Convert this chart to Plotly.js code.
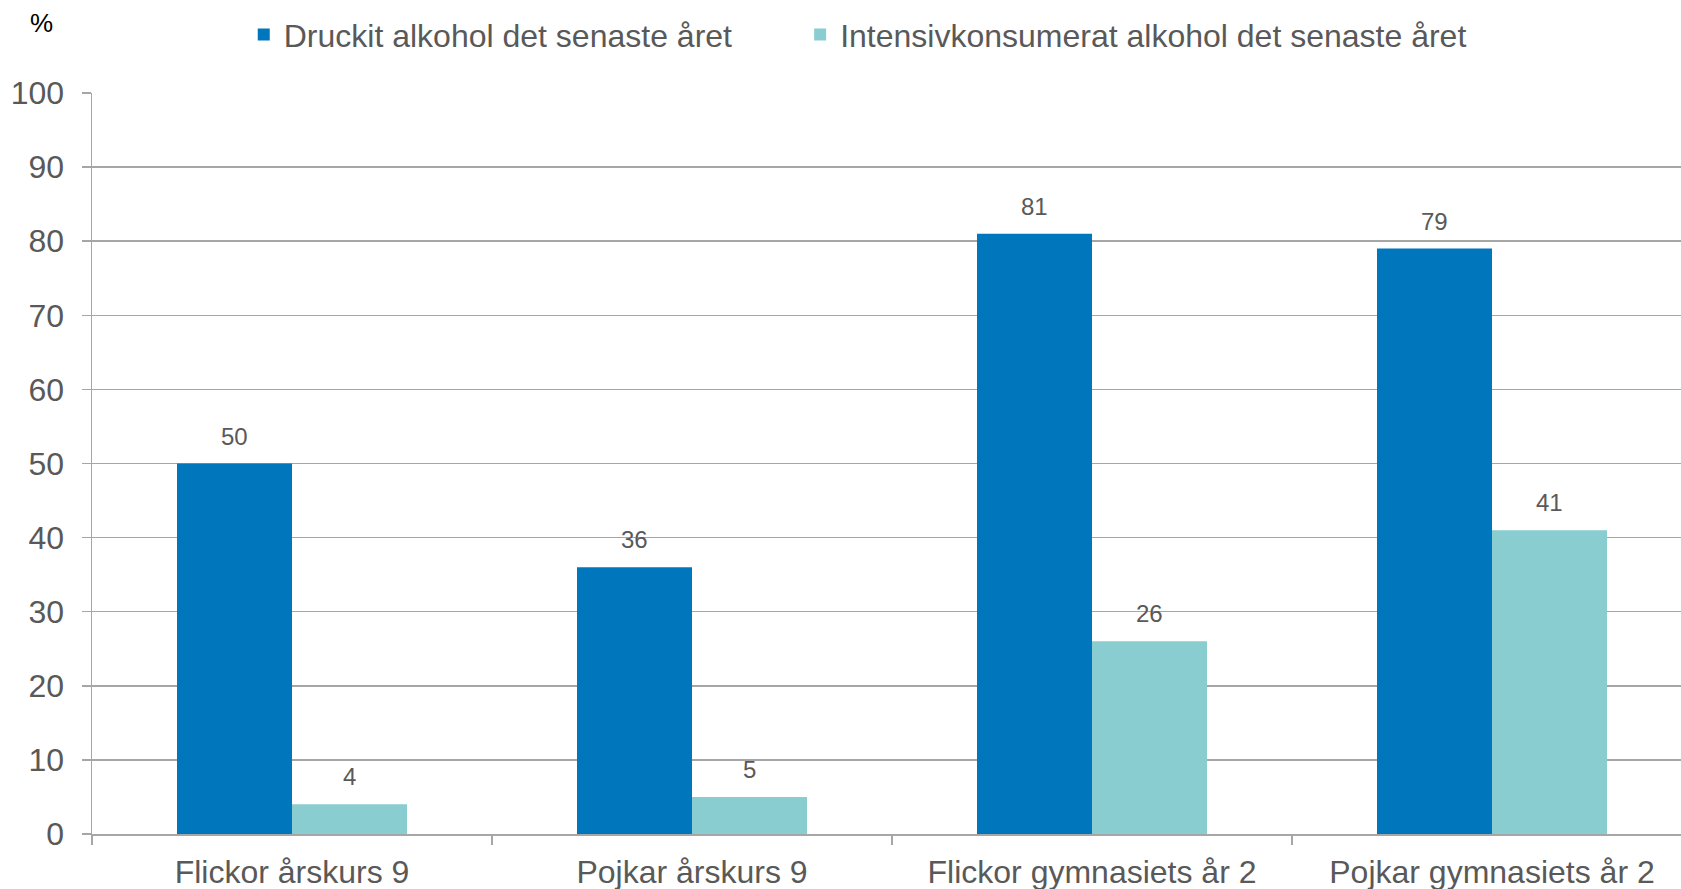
<!DOCTYPE html>
<html>
<head>
<meta charset="utf-8">
<script src="https://cdn.plot.ly/plotly-3.0.1.min.js"></script>
<style>
  html, body { margin: 0; padding: 0; background: #fff; }
  #chartContainer { width: 1681px; height: 889px; }
</style>
</head>
<body>
<div id="chartContainer"></div>
<script>
// data
const categories = ['Flickor årskurs 9', 'Pojkar årskurs 9', 'Flickor gymnasiets år 2', 'Pojkar gymnasiets år 2'];
const druckit = [50, 36, 81, 79];
const intensiv = [4, 5, 26, 41];
const seriesNames = ['Druckit alkohol det senaste året', 'Intensivkonsumerat alkohol det senaste året'];
const yTicks = [0, 10, 20, 30, 40, 50, 60, 70, 80, 90, 100];

const textGray = '#595959';
const gridGray = '#A6A6A6';
const font = 'Liberation Sans, Arial, sans-serif';

const barGap = 0.425;
const barFrac = (1 - barGap) / 2;   // width of one bar in category units

function valueLabels(values, side) {
    // label sits above the bar centre, offset by half a bar width
    return values.map((v, i) => ({
        x: i + side * barFrac / 2,
        y: v,
        xref: 'x',
        yref: 'y',
        text: String(v),
        showarrow: false,
        yanchor: 'bottom',
        yshift: 12,
        font: { family: font, size: 24, color: textGray }
    }));
}

// one legend box per series so they can sit apart like the original
function legendBox(x) {
    return {
        orientation: 'h',
        xref: 'container',
        yref: 'container',
        x: x,
        xanchor: 'left',
        y: 0.961,
        yanchor: 'middle',
        font: { family: font, size: 32, color: textGray }
    };
}

var trace1 = {
    x: categories,
    y: druckit,
    name: seriesNames[0],
    type: 'bar',
    marker: { color: '#0076BD' },
    legend: 'legend'
};

var trace2 = {
    x: categories,
    y: intensiv,
    name: seriesNames[1],
    type: 'bar',
    marker: { color: '#89CDD1' },
    legend: 'legend2'
};

var layout = {
    width: 1681,
    height: 889,
    margin: { l: 92, r: 0, t: 93, b: 55 },
    paper_bgcolor: '#fff',
    plot_bgcolor: '#fff',
    barmode: 'group',
    bargap: barGap,
    bargroupgap: 0,
    font: { family: font, color: textGray },
    showlegend: true,
    legend: legendBox(0.145),
    legend2: legendBox(0.476),
    xaxis: {
        type: 'category',
        range: [-0.5, 3.4725],
        tickson: 'boundaries',
        ticks: 'outside',
        ticklen: 9,
        tickwidth: 1.5,
        tickcolor: gridGray,
        ticklabelstandoff: 9,
        showline: true,
        linecolor: gridGray,
        linewidth: 1.5,
        showgrid: false,
        tickfont: { family: font, size: 32, color: textGray },
        fixedrange: true
    },
    yaxis: {
        range: [0, 100],
        tickvals: yTicks,
        ticks: 'outside',
        ticklen: 9,
        tickwidth: 1.5,
        tickcolor: gridGray,
        ticklabelstandoff: 11,
        showline: true,
        linecolor: gridGray,
        linewidth: 1.5,
        showgrid: true,
        gridcolor: gridGray,
        gridwidth: 1.5,
        zeroline: false,
        tickfont: { family: font, size: 32, color: textGray },
        fixedrange: true
    },
    annotations: [
        {
            text: '%',
            xref: 'paper',
            yref: 'paper',
            x: -0.0403,
            y: 1.117,
            showarrow: false,
            font: { family: font, size: 26, color: '#000' }
        },
        ...valueLabels(druckit, -1),
        ...valueLabels(intensiv, 1)
    ]
};

Plotly.newPlot('chartContainer', [trace1, trace2], layout, { displayModeBar: false, staticPlot: true });
</script>
</body>
</html>
